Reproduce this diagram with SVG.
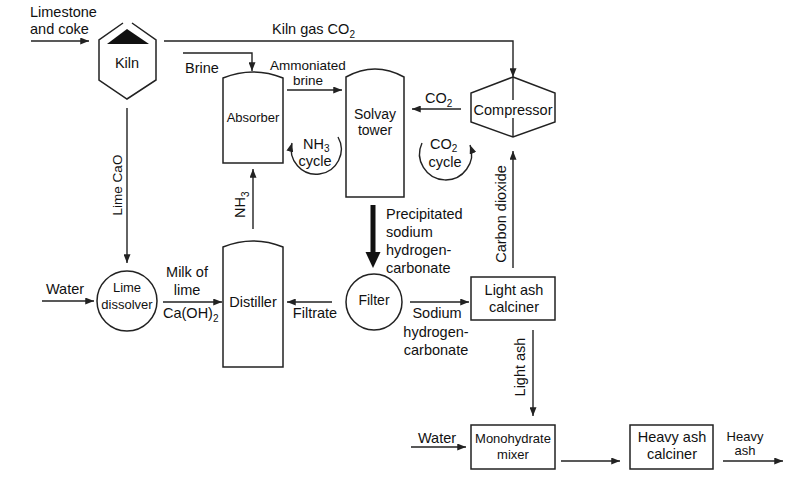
<svg xmlns="http://www.w3.org/2000/svg" width="807" height="482" viewBox="0 0 807 482">
<style>
text{font-family:"Liberation Sans",Arial,Helvetica,sans-serif;font-size:14.5px;fill:#111}
.m{text-anchor:middle}
.s{font-size:13px}
.sub{font-size:10px}
.shape{fill:#fff;stroke:#222;stroke-width:1.5}
.ln{fill:none;stroke:#222;stroke-width:1.4}
</style>
<defs>
<marker id="a" viewBox="0 0 10 8" refX="10" refY="4" markerWidth="9" markerHeight="7" markerUnits="userSpaceOnUse" orient="auto-start-reverse">
<path d="M0,0 L10,4 L0,8 Z" fill="#222"/>
</marker>
</defs>
<rect width="807" height="482" fill="#fff"/>

<g id="connectors">
<line class="ln" x1="31" y1="41" x2="89" y2="41" marker-end="url(#a)"/>
<polyline class="ln" points="164,41 513,41 513,77" marker-end="url(#a)"/>
<polyline class="ln" points="183,53 252,53 252,71" marker-end="url(#a)"/>
<line class="ln" x1="287" y1="90" x2="342" y2="90" marker-end="url(#a)"/>
<line class="ln" x1="461" y1="109" x2="412" y2="109" marker-end="url(#a)"/>
<line class="ln" x1="513" y1="268" x2="513" y2="151" marker-end="url(#a)"/>
<line class="ln" x1="127" y1="108" x2="127" y2="263" marker-end="url(#a)"/>
<line class="ln" x1="253" y1="229" x2="253" y2="169" marker-end="url(#a)"/>
<line class="ln" x1="42" y1="301" x2="94" y2="301" marker-end="url(#a)"/>
<line class="ln" x1="163" y1="302" x2="222" y2="302" marker-end="url(#a)"/>
<line class="ln" x1="332" y1="302" x2="287" y2="302" marker-end="url(#a)"/>
<line class="ln" x1="410" y1="302" x2="469" y2="302" marker-end="url(#a)"/>
<line class="ln" x1="533" y1="330" x2="533" y2="416" marker-end="url(#a)"/>
<line class="ln" x1="411" y1="447" x2="466" y2="447" marker-end="url(#a)"/>
<line class="ln" x1="561" y1="461" x2="620" y2="461" marker-end="url(#a)"/>
<line class="ln" x1="723" y1="461" x2="783" y2="461" marker-end="url(#a)"/>
<line x1="373" y1="205" x2="373" y2="254" stroke="#111" stroke-width="5"/>
<polygon points="365.5,252 380.5,252 373,268" fill="#111"/>
<path class="ln" d="M292,143 A25,25 0 1 0 338,137" marker-start="url(#a)"/>
<path class="ln" d="M422,143 A26,26 0 1 0 470,145" marker-end="url(#a)"/>
</g>

<g id="kiln">
<polyline class="shape" points="123,23 99,40 99,80 127,99 156,80 156,40 132,23"/>
<polygon points="107,44 149,44 127,29" fill="#111"/>
<text class="m" x="127" y="68">Kiln</text>
</g>

<g id="absorber">
<path class="shape" d="M223,163 L223,78 Q253,66 283,78 L283,163 Z"/>
<text class="m s" x="253" y="122">Absorber</text>
</g>

<g id="solvay-tower">
<path class="shape" d="M346,197 L346,77 Q375,61 404,77 L404,197 Z"/>
<text class="m" x="375" y="119" style="font-size:14px">Solvay</text>
<text class="m" x="375" y="135" style="font-size:14px">tower</text>
</g>

<g id="compressor">
<polygon class="shape" points="513,77 555,93 555,122 513,137 471,122 471,93"/>
<line class="ln" x1="513" y1="77" x2="513" y2="100"/>
<line class="ln" x1="513" y1="118" x2="513" y2="137"/>
<text class="m" x="513" y="115">Compressor</text>
</g>

<g id="lime-dissolver">
<circle class="shape" cx="127" cy="301" r="30"/>
<text class="m s" x="127" y="292">Lime</text>
<text class="m s" x="127" y="309">dissolver</text>
</g>

<g id="distiller">
<path class="shape" d="M223,367 L223,247 Q253,235 283,247 L283,367 Z"/>
<text class="m" x="253" y="307">Distiller</text>
</g>

<g id="filter">
<circle class="shape" cx="374" cy="302" r="28"/>
<text class="m" x="374" y="305" style="font-size:14px">Filter</text>
</g>

<g id="light-ash-calciner">
<rect class="shape" x="471" y="277" width="84" height="43"/>
<text class="m" x="514" y="295">Light ash</text>
<text class="m" x="514" y="312">calciner</text>
</g>

<g id="monohydrate-mixer">
<rect class="shape" x="471" y="425" width="84" height="44"/>
<text class="m s" x="513" y="443">Monohydrate</text>
<text class="m s" x="513" y="459">mixer</text>
</g>

<g id="heavy-ash-calciner">
<rect class="shape" x="630" y="425" width="83" height="44"/>
<text class="m" x="672" y="442">Heavy ash</text>
<text class="m" x="672" y="459">calciner</text>
</g>

<g id="labels">
<text x="30" y="17">Limestone</text>
<text x="30" y="34">and coke</text>
<text x="272" y="34">Kiln gas CO<tspan class="sub" dy="4">2</tspan></text>
<text x="185" y="73">Brine</text>
<text class="m" x="308" y="70" style="font-size:13.5px">Ammoniated</text>
<text class="m" x="308" y="85" style="font-size:13.5px">brine</text>
<text x="425" y="103">CO<tspan class="sub" dy="4">2</tspan></text>
<text x="303" y="149">NH<tspan class="sub" dy="3">3</tspan></text>
<text class="m" x="315" y="166">cycle</text>
<text x="430" y="149">CO<tspan class="sub" dy="3">2</tspan></text>
<text class="m" x="445" y="167">cycle</text>
<text class="m" transform="translate(506,214) rotate(-90)">Carbon dioxide</text>
<text class="m" transform="translate(122,185) rotate(-90)" style="font-size:13.5px">Lime CaO</text>
<text transform="translate(245,218) rotate(-90)">NH<tspan class="sub" dy="4">3</tspan></text>
<text class="m" x="65" y="294">Water</text>
<text class="m" x="187" y="277">Milk of</text>
<text class="m" x="187" y="295">lime</text>
<text x="163" y="318">Ca(OH)<tspan class="sub" dy="4">2</tspan></text>
<text class="m" x="315" y="318">Filtrate</text>
<text x="386" y="219">Precipitated</text>
<text x="386" y="237">sodium</text>
<text x="386" y="255">hydrogen-</text>
<text x="386" y="273">carbonate</text>
<text class="m" x="437" y="318">Sodium</text>
<text class="m" x="436" y="337">hydrogen-</text>
<text class="m" x="436" y="355">carbonate</text>
<text class="m" transform="translate(525,367) rotate(-90)">Light ash</text>
<text class="m" x="437" y="443">Water</text>
<text class="m" x="745" y="441" style="font-size:13px">Heavy</text>
<text class="m" x="745" y="455" style="font-size:13px">ash</text>
</g>
</svg>
